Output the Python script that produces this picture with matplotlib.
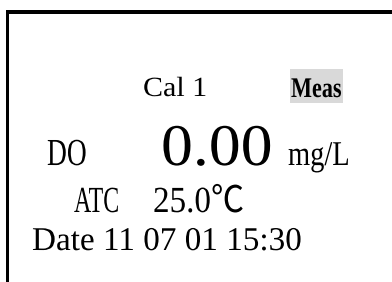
import matplotlib
matplotlib.use('Agg')
import matplotlib.pyplot as plt
from matplotlib.patches import Rectangle
from matplotlib.patheffects import AbstractPathEffect
from matplotlib.transforms import Affine2D

# display contents
cal_label = 'Cal 1'
mode_label = 'Meas'
param_name = 'DO'
reading = 0.00
unit = 'mg/L'
temp_label = 'ATC'
temperature = 25.0
date_parts = [11, 7, 1]
time_str = '15:30'

FONT = ['Liberation Serif', 'Noto Sans CJK SC', 'DejaVu Serif']


class Squeeze(AbstractPathEffect):
    # narrow the glyphs like the LCD font (scales around the text origin)
    def __init__(self, sx=1.0, sy=1.0):
        super().__init__()
        self.sx = sx
        self.sy = sy

    def draw_path(self, renderer, gc, tpath, affine, rgbFace=None):
        renderer.draw_path(gc, tpath, Affine2D().scale(self.sx, self.sy) + affine, rgbFace)


def put(ax, x, y, s, size, sx, weight='normal'):
    ax.text(x, y, s, fontsize=size, family=FONT, weight=weight,
            ha='left', va='baseline', color='black',
            path_effects=[Squeeze(sx)])


fig = plt.figure(figsize=(3.92, 2.82), dpi=100)
ax = fig.add_axes([0, 0, 1, 1])
ax.set_xlim(0, 392)
ax.set_ylim(282, 0)
ax.axis('off')

# frame (top and left edge only)
ax.add_patch(Rectangle((6, 10), 386, 3.5, color='black', lw=0))
ax.add_patch(Rectangle((6, 10), 3.5, 272, color='black', lw=0))

# highlight behind the active mode
ax.add_patch(Rectangle((290, 69), 53, 34, color='#d9d9d9', lw=0))

put(ax, 143, 96, cal_label, 20, 1.08)
put(ax, 291, 97, mode_label, 20.5, 0.78, weight='bold')

put(ax, 47, 165, param_name, 27.5, 0.72)
put(ax, 161, 165, f'{reading:.2f}', 42.5, 1.08)
put(ax, 288, 165, unit, 25, 0.82)

put(ax, 74, 212, temp_label, 26.5, 0.65)
put(ax, 153, 212, f'{temperature:.1f}℃', 26.5, 0.9)

date_str = 'Date ' + ' '.join(f'{v:02d}' for v in date_parts) + ' ' + time_str
put(ax, 32, 250, date_str, 23.9, 1.0)

fig.savefig('out.png', dpi=100)
